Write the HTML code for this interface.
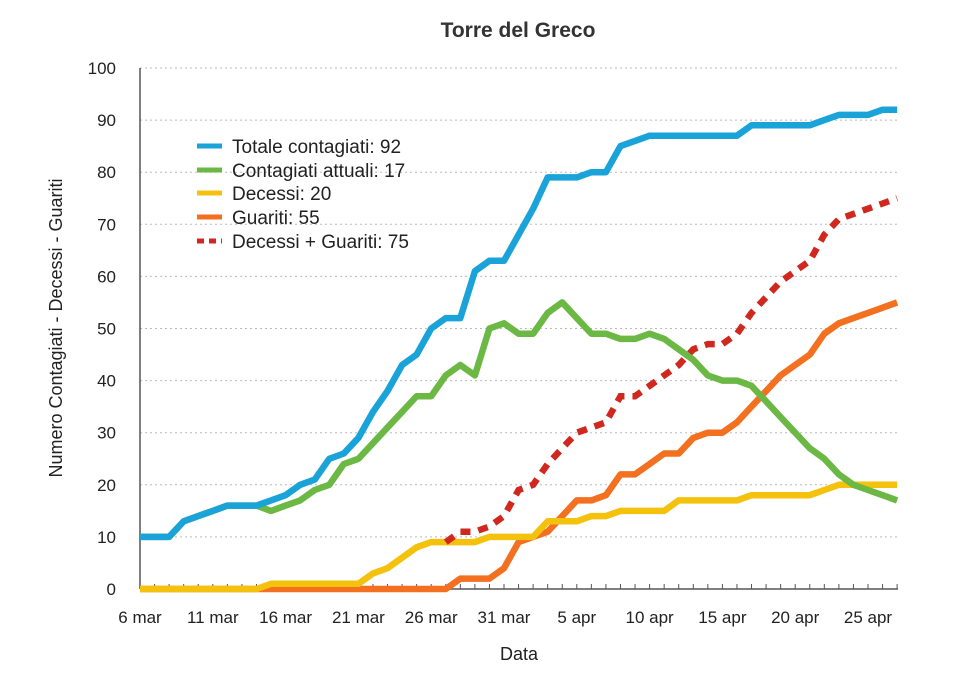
<!DOCTYPE html>
<html><head><meta charset="utf-8"><style>body{margin:0;background:#fff}svg{display:block;font-family:"Liberation Sans",sans-serif}</style></head><body>
<svg id="s" width="960" height="675" xmlns="http://www.w3.org/2000/svg">
<text x="518" y="37" text-anchor="middle" font-size="21" font-weight="bold" fill="#333">Torre del Greco</text>
<g id="grid" stroke="#bbb" stroke-dasharray="2,3" stroke-width="1"></g>
<g id="ylab" font-size="17" fill="#222" text-anchor="end"></g>
<g id="xlab" font-size="17" fill="#222" text-anchor="middle"></g>
<g id="ticks" stroke="#555" stroke-width="1"></g>
<line x1="140" y1="68" x2="140" y2="589" stroke="#555" stroke-width="1.5"/>
<line x1="140" y1="589" x2="898" y2="589" stroke="#555" stroke-width="1.5"/>
<text x="519" y="660" text-anchor="middle" font-size="18" fill="#222">Data</text>
<text transform="translate(62,328) rotate(-90)" text-anchor="middle" font-size="18" fill="#222">Numero Contagiati - Decessi - Guariti</text>
<g id="lines" fill="none" stroke-width="6.5" stroke-linejoin="round"></g>
<g font-size="19" fill="#222">
<line x1="197" y1="146" x2="222" y2="146" stroke="#1aa3d9" stroke-width="5"/><text x="232" y="153">Totale contagiati: 92</text>
<line x1="197" y1="170" x2="222" y2="170" stroke="#6cb844" stroke-width="5"/><text x="232" y="177">Contagiati attuali: 17</text>
<line x1="197" y1="193" x2="222" y2="193" stroke="#f4c20d" stroke-width="5"/><text x="232" y="200">Decessi: 20</text>
<line x1="197" y1="217" x2="222" y2="217" stroke="#f37021" stroke-width="5"/><text x="232" y="224">Guariti: 55</text>
<line x1="197" y1="241" x2="222" y2="241" stroke="#d0281e" stroke-width="5" stroke-dasharray="7,5"/><text x="232" y="248">Decessi + Guariti: 75</text>
</g>
</svg>
<script>
const NS="http://www.w3.org/2000/svg";
function el(p,t,a,txt){const e=document.createElementNS(NS,t);for(const k in a)e.setAttribute(k,a[k]);if(txt!==undefined)e.textContent=txt;document.getElementById(p).appendChild(e);}
const X=d=>140+d*14.56, Y=v=>589-v*5.21;
for(let v=0;v<=100;v+=10){if(v>0)el('grid','line',{x1:140,x2:898,y1:Y(v),y2:Y(v)});el('ylab','text',{x:116,y:Y(v)+6},v);}
const xl=["6 mar","11 mar","16 mar","21 mar","26 mar","31 mar","5 apr","10 apr","15 apr","20 apr","25 apr"];
xl.forEach((t,i)=>el('xlab','text',{x:X(i*5),y:623},t));
for(let d=0;d<=52;d++)el('ticks','line',{x1:X(d),x2:X(d),y1:589,y2:584});
const tot=[10,10,10,13,14,15,16,16,16,17,18,20,21,25,26,29,34,38,43,45,50,52,52,61,63,63,68,73,79,79,79,80,80,85,86,87,87,87,87,87,87,87,89,89,89,89,89,90,91,91,91,92,92];
const att=[10,10,10,13,14,15,16,16,16,15,16,17,19,20,24,25,28,31,34,37,37,41,43,41,50,51,49,49,53,55,52,49,49,48,48,49,48,46,44,41,40,40,39,36,33,30,27,25,22,20,19,18,18,17].slice(0,53);
const dec=[0,0,0,0,0,0,0,0,0,1,1,1,1,1,1,1,3,4,6,8,9,9,9,9,10,10,10,10,13,13,13,14,14,15,15,15,15,17,17,17,17,17,18,18,18,18,18,19,20,20,20,20,20];
const gua=[0,0,0,0,0,0,0,0,0,0,0,0,0,0,0,0,0,0,0,0,0,0,2,2,2,4,9,10,11,14,17,17,18,22,22,24,26,26,29,30,30,32,35,38,41,43,45,49,51,52,53,54,55];
att[52]=17;
function pts(a,s){let r=[];for(let d=s||0;d<a.length;d++)r.push(X(d).toFixed(1)+","+Y(a[d]).toFixed(1));return r.join(" ");}
const sum=dec.map((v,i)=>v+gua[i]);
el('lines','polyline',{points:pts(gua),stroke:"#f37021"});
el('lines','polyline',{points:pts(dec),stroke:"#f4c20d"});
el('lines','polyline',{points:pts(sum,21),stroke:"#d0281e","stroke-dasharray":"10,8","stroke-linejoin":"miter"});
el('lines','polyline',{points:pts(att),stroke:"#6cb844"});
el('lines','polyline',{points:pts(tot),stroke:"#1aa3d9"});
</script>
</body></html>
